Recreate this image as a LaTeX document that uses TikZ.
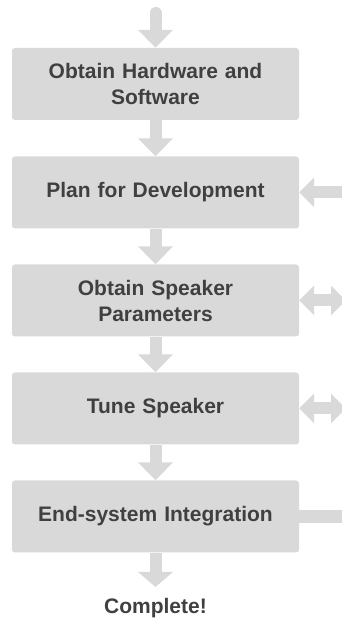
\documentclass[tikz,border=0pt]{standalone}
\usepackage{fontspec}
\setmainfont{Liberation Sans}
\usetikzlibrary{arrows.meta}
\definecolor{boxgray}{HTML}{D9D9D9}
\definecolor{textgray}{HTML}{404040}
\tikzset{
	stage/.style={fill=boxgray, rounded corners=3pt, minimum width=287pt, minimum height=72pt,
		text width=262pt, align=center, inner sep=0pt, text=textgray,
		font=\bfseries\fontsize{21}{26}\selectfont},
	flow/.style={draw=boxgray, line width=12pt, -{Triangle[length=18pt,width=34pt]}},
	feed/.style={draw=boxgray, line width=12pt},
	feedtip/.tip={Triangle[length=15pt,width=29pt]}
}
\begin{document}
\begin{tikzpicture}[x=1pt,y=1pt]
	% page frame
	\clip (0,0) rectangle (342,618);
	% the stages
	\node[stage] (hw)    at (155.5,534)   {Obtain Hardware and\\Software};
	\node[stage] (plan)  at (155.5,425.5) {Plan for Development};
	\node[stage] (param) at (155.5,317.5) {Obtain Speaker\\Parameters};
	\node[stage] (tune)  at (155.5,209.5) {Tune Speaker};
	\node[stage] (integ) at (155.5,101.5) {End-system Integration};
	\node[anchor=north, inner sep=0pt, text=textgray, font=\bfseries\fontsize{21}{26}\selectfont]
		(done) at (155.5,20) {Complete!};
	% loose ends
	\coordinate (start) at (155.5,605);
	\coordinate (inplan) at (342,425.5);
	\coordinate (outparam) at (346,317.5);
	\coordinate (outtune) at (346,209.5);
	\coordinate (outinteg) at (342,101.5);
	% the main flow
	\draw[flow, line cap=round] (start) -- (hw.north);
	\draw[flow] (hw.south) -- (plan.north);
	\draw[flow] (plan.south) -- (param.north);
	\draw[flow] (param.south) -- (tune.north);
	\draw[flow] (tune.south) -- (integ.north);
	\draw[flow, -{Triangle[length=15pt,width=34pt]}, shorten >=11pt] (integ.south) -- (done.north);
	% side connectors
	\draw[feed, -feedtip] (inplan) -- (plan.east);
	\draw[feed, feedtip-feedtip] (param.east) -- (outparam);
	\draw[feed, feedtip-feedtip] (tune.east) -- (outtune);
	\draw[feed, line width=13pt] (integ.east) -- (outinteg);
\end{tikzpicture}
\end{document}
